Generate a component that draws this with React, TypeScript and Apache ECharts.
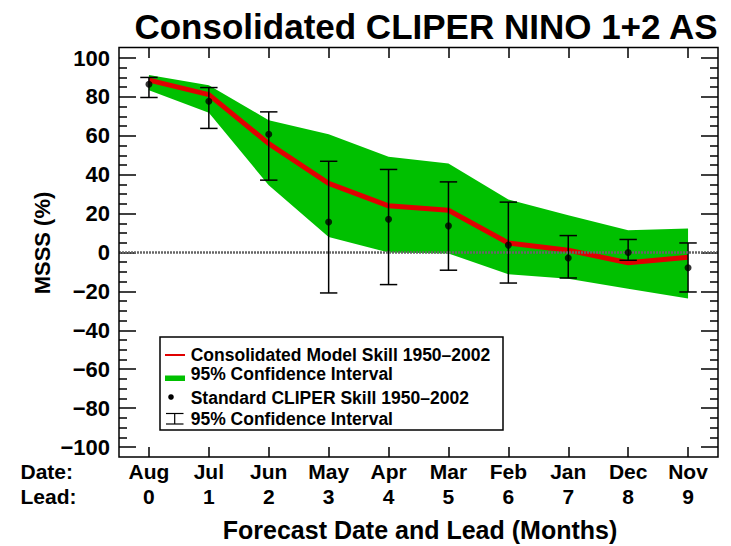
import React, { useEffect, useRef } from "react";
import * as echarts from "echarts";

const months = ["Aug", "Jul", "Jun", "May", "Apr", "Mar", "Feb", "Jan", "Dec", "Nov"];
const leads = ["0", "1", "2", "3", "4", "5", "6", "7", "8", "9"];

// Consolidated model skill (red line)
const modelSkill = [88.6, 81.2, 56.0, 35.5, 24.0, 21.7, 4.9, 1.2, -5.3, -2.5];
// 95% confidence band of the consolidated model (green)
const ciUpper = [91.2, 86.0, 68.0, 60.8, 49.2, 45.8, 27.2, 19.2, 11.5, 12.3];
const ciLower = [83.4, 71.8, 34.6, 8.0, 0.0, -0.5, -11.2, -13.5, -18.6, -23.7];
// Standard CLIPER skill (dots) and its 95% interval (error bars)
const cliperSkill = [86.5, 77.8, 60.8, 15.7, 17.1, 13.7, 3.8, -2.8, 0.0, -7.8];
const cliperHigh = [90.0, 84.8, 72.3, 46.9, 42.7, 36.3, 25.9, 8.7, 6.7, 4.9];
const cliperLow = [79.7, 63.8, 37.2, -20.8, -16.5, -9.1, -15.7, -13.1, -4.0, -20.3];

const FONT = '"Liberation Sans", Arial, Helvetica, sans-serif';

export default function App() {
  const ref = useRef<HTMLDivElement>(null);
  useEffect(() => {
    document.body.style.margin = "0";
    const chart = echarts.init(ref.current!, null, { renderer: "svg" });
    const bandDiff = ciUpper.map((u, i) => u - ciLower[i]);
    const errData = months.map((_, i) => [i, cliperLow[i], cliperHigh[i]]);
    const L = { left: 119, right: 718, top: 47.5, bottom: 457 };

    const xAxisBase = {
      type: "category" as const,
      data: months,
      boundaryGap: true,
      offset: 10,
      axisLine: { show: false, onZero: false },
      axisTick: { show: true, inside: true, alignWithLabel: true, length: 10, lineStyle: { color: "#000", width: 1.5 } },
      splitLine: { show: false },
    };
    const yAxisBase = {
      type: "value" as const,
      min: -100,
      max: 100,
      interval: 20,
      axisLine: { show: false, onZero: false },
      axisTick: { show: true, inside: true, length: 17, lineStyle: { color: "#000", width: 1.5 } },
      minorTick: { show: true, splitNumber: 4, length: 8, lineStyle: { color: "#000", width: 1.5 } },
      splitLine: { show: false },
      minorSplitLine: { show: false },
    };

    chart.setOption({
      animation: false,
      grid: { left: 119, right: 13, top: 58, bottom: 99, outerBoundsMode: "none" },
      xAxis: [
        {
          ...xAxisBase,
          position: "bottom",
          axisLabel: {
            show: true,
            margin: 1.5,
            interval: 0,
            fontSize: 21,
            fontWeight: "bold",
            fontFamily: FONT,
            color: "#000",
            lineHeight: 25,
            formatter: (v: string, i: number) => `${v}\n${leads[i]}`,
          },
        },
        { ...xAxisBase, position: "top", axisLabel: { show: false } },
      ],
      yAxis: [
        {
          ...yAxisBase,
          position: "left",
          axisLabel: {
            show: true,
            margin: 9,
            fontSize: 22,
            fontWeight: "bold",
            fontFamily: FONT,
            color: "#000",
            formatter: (v: number) => (v < 0 ? `\u2212${Math.abs(v)}` : `${v}`),
          },
        },
        { ...yAxisBase, position: "right", axisLabel: { show: false } },
      ],
      series: [
        {
          type: "line",
          name: "lower",
          data: ciLower,
          stack: "ci",
          stackStrategy: "all",
          symbol: "none",
          lineStyle: { width: 0, opacity: 0 },
          silent: true,
          z: 2,
        },
        {
          type: "line",
          name: "95% Confidence Interval",
          data: bandDiff,
          stack: "ci",
          stackStrategy: "all",
          symbol: "none",
          lineStyle: { width: 0, opacity: 0 },
          areaStyle: { color: "#00c000", opacity: 1 },
          silent: true,
          z: 2,
          markLine: {
            silent: true,
            symbol: "none",
            label: { show: false },
            lineStyle: { color: "#666", width: 2.5, type: [2, 1] },
            data: [{ yAxis: 0 }],
          },
        },
        {
          type: "line",
          name: "Consolidated Model Skill 1950\u20132002",
          data: modelSkill,
          symbol: "none",
          lineStyle: { color: "#e00000", width: 5 },
          z: 3,
        },
        {
          type: "custom",
          name: "CLIPER interval",
          data: errData,
          encode: { x: 0, y: [1, 2] },
          z: 4,
          renderItem: (params: any, api: any) => {
            const x = api.value(0);
            const hi = api.coord([x, api.value(2)]);
            const lo = api.coord([x, api.value(1)]);
            const hw = 8.7;
            const st = { stroke: "#000", lineWidth: 1.5 };
            return {
              type: "group",
              children: [
                { type: "line", shape: { x1: hi[0], y1: hi[1], x2: lo[0], y2: lo[1] }, style: st },
                { type: "line", shape: { x1: hi[0] - hw, y1: hi[1], x2: hi[0] + hw, y2: hi[1] }, style: st },
                { type: "line", shape: { x1: lo[0] - hw, y1: lo[1], x2: lo[0] + hw, y2: lo[1] }, style: st },
              ],
            };
          },
        },
        {
          type: "scatter",
          name: "Standard CLIPER Skill 1950\u20132002",
          data: cliperSkill,
          symbol: "circle",
          symbolSize: 7,
          itemStyle: { color: "#000" },
          z: 5,
        },
      ],
      graphic: [
        {
          type: "rect",
          shape: { x: L.left, y: L.top, width: L.right - L.left, height: L.bottom - L.top },
          style: { fill: "none", stroke: "#000", lineWidth: 1.5 },
          z: 10,
          silent: true,
        },
        {
          type: "text",
          x: 426,
          y: 26,
          style: {
            text: "Consolidated CLIPER NINO 1+2 AS",
            fontSize: 35,
            fontWeight: "bold",
            fontFamily: FONT,
            fill: "#000",
            align: "center",
            verticalAlign: "middle",
          },
        },
        {
          type: "text",
          x: 42,
          y: 243,
          rotation: Math.PI / 2,
          style: {
            text: "MSSS (%)",
            fontSize: 22,
            fontWeight: "bold",
            fontFamily: FONT,
            fill: "#000",
            align: "center",
            verticalAlign: "middle",
          },
        },
        {
          type: "text",
          x: 20.5,
          y: 471,
          style: { text: "Date:", fontSize: 21, fontWeight: "bold", fontFamily: FONT, fill: "#000", align: "left", verticalAlign: "middle" },
        },
        {
          type: "text",
          x: 20.5,
          y: 496,
          style: { text: "Lead:", fontSize: 21, fontWeight: "bold", fontFamily: FONT, fill: "#000", align: "left", verticalAlign: "middle" },
        },
        {
          type: "text",
          x: 420,
          y: 530,
          style: {
            text: "Forecast Date and Lead (Months)",
            fontSize: 25,
            fontWeight: "bold",
            fontFamily: FONT,
            fill: "#000",
            align: "center",
            verticalAlign: "middle",
          },
        },
        // legend
        {
          type: "group",
          z: 20,
          children: [
            { type: "rect", shape: { x: 160, y: 337, width: 343, height: 93 }, style: { fill: "#fff", stroke: "#000", lineWidth: 1.5 } },
            { type: "line", shape: { x1: 165, y1: 355, x2: 185, y2: 355 }, style: { stroke: "#e00000", lineWidth: 2 } },
            { type: "rect", shape: { x: 165, y: 375.5, width: 20, height: 5.5 }, style: { fill: "#00c000" } },
            { type: "circle", shape: { cx: 171, cy: 397, r: 2.8 }, style: { fill: "#000" } },
            { type: "line", shape: { x1: 166, y1: 413.5, x2: 183.5, y2: 413.5 }, style: { stroke: "#000", lineWidth: 1.2 } },
            { type: "line", shape: { x1: 166, y1: 424, x2: 183.5, y2: 424 }, style: { stroke: "#000", lineWidth: 1.2 } },
            { type: "line", shape: { x1: 174.7, y1: 413.5, x2: 174.7, y2: 424 }, style: { stroke: "#000", lineWidth: 1.2 } },
            {
              type: "text", x: 190.7, y: 355,
              style: { text: "Consolidated Model Skill 1950\u20132002", fontSize: 17.5, fontWeight: "bold", fontFamily: FONT, fill: "#000", align: "left", verticalAlign: "middle" },
            },
            {
              type: "text", x: 190.7, y: 374,
              style: { text: "95% Confidence Interval", fontSize: 17.5, fontWeight: "bold", fontFamily: FONT, fill: "#000", align: "left", verticalAlign: "middle" },
            },
            {
              type: "text", x: 190.7, y: 398,
              style: { text: "Standard CLIPER Skill 1950\u20132002", fontSize: 17.5, fontWeight: "bold", fontFamily: FONT, fill: "#000", align: "left", verticalAlign: "middle" },
            },
            {
              type: "text", x: 190.7, y: 418.5,
              style: { text: "95% Confidence Interval", fontSize: 17.5, fontWeight: "bold", fontFamily: FONT, fill: "#000", align: "left", verticalAlign: "middle" },
            },
          ],
        },
      ],
    });
    return () => chart.dispose();
  }, []);
  return <div ref={ref} style={{ position: "absolute", left: 0, top: 0, width: 731, height: 546 }} />;
}
